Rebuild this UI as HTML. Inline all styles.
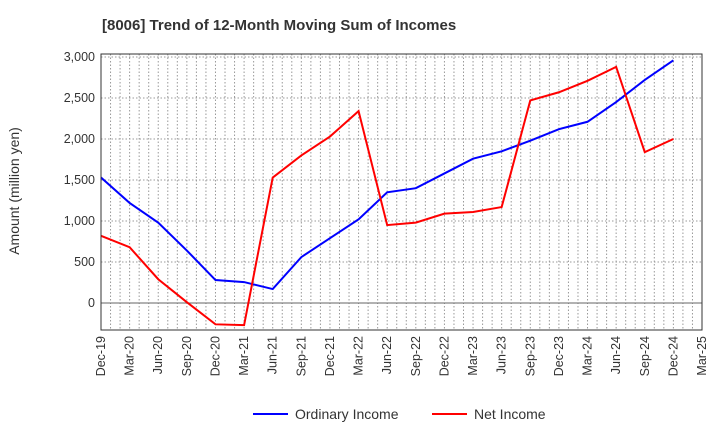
<!DOCTYPE html>
<html><head><meta charset="utf-8"><style>
body{margin:0;background:#fff;font-family:"Liberation Sans",sans-serif}
</style></head><body>
<svg id="c" width="720" height="440" xmlns="http://www.w3.org/2000/svg">
<text x="102" y="30" font-size="15" font-weight="bold" fill="#333">[8006]  Trend of 12-Month Moving Sum of Incomes</text>
<text transform="translate(19,191) rotate(-90)" text-anchor="middle" font-size="14" fill="#333">Amount (million yen)</text>
<g id="grid"></g><g id="series"></g><g id="axes"></g>
<g>
<line x1="253" y1="414" x2="288" y2="414" stroke="#0000ff" stroke-width="2"/>
<text x="295" y="419" font-size="14" fill="#333">Ordinary Income</text>
<line x1="432" y1="414" x2="467" y2="414" stroke="#ff0000" stroke-width="2"/>
<text x="474" y="419" font-size="14" fill="#333">Net Income</text>
</g>
</svg>
<script>
const categories=["Dec-19","Mar-20","Jun-20","Sep-20","Dec-20","Mar-21","Jun-21","Sep-21","Dec-21","Mar-22","Jun-22","Sep-22","Dec-22","Mar-23","Jun-23","Sep-23","Dec-23","Mar-24","Jun-24","Sep-24","Dec-24","Mar-25"];
const ordinaryIncome=[1530,1220,980,640,280,255,170,560,790,1020,1350,1400,1580,1760,1850,1980,2120,2210,2450,2720,2960];
const netIncome=[820,680,290,10,-260,-270,1530,1800,2030,2340,950,980,1090,1110,1170,2470,2570,2710,2880,1840,2000];
const yTicks=[0,500,1000,1500,2000,2500,3000];
const L=101,R=702,T=54,B=330;
const X=i=>L+i*(R-L)/(categories.length-1);
const Y=v=>303-v*(246/3000);
const NS="http://www.w3.org/2000/svg";
function mk(p,t,a){const e=document.createElementNS(NS,t);for(const k in a)e.setAttribute(k,a[k]);p.appendChild(e);return e;}
const g=document.getElementById('grid'),s=document.getElementById('series'),ax=document.getElementById('axes');
for(let m=1;m<(categories.length-1)*3;m++){const x=L+m*(R-L)/((categories.length-1)*3);
const l=mk(g,'line',{x1:x,x2:x,y1:T,y2:B,stroke:'#999','stroke-dasharray':'1.5,2','stroke-width':1});

}
yTicks.forEach(v=>{const y=Y(v);
const l=mk(g,'line',{x1:L,x2:R,y1:y,y2:y,stroke:v===0?'#666':'#999','stroke-dasharray':v===0?'':'1.5,2','stroke-width':1});


const t=mk(ax,'text',{x:L-6,y:y+4,'text-anchor':'end','font-size':12.5,fill:'#333'});t.textContent=v.toLocaleString('en-US');

});
categories.forEach((c,i)=>{const x=X(i);
const t=mk(ax,'text',{transform:`translate(${x+4},${B+6}) rotate(-90)`,'text-anchor':'end','font-size':12.5,fill:'#333'});t.textContent=c;

});
const fr=mk(ax,'rect',{x:L,y:T,width:R-L,height:B-T,fill:'none',stroke:'#333','stroke-width':1});


function line(d,col,name){const p=mk(s,'polyline',{points:d.map((v,i)=>X(i)+','+Y(v)).join(' '),fill:'none',stroke:col,'stroke-width':2});

}
line(ordinaryIncome,'#0000ff','ordinary-income-line');
line(netIncome,'#ff0000','net-income-line');
</script>
</body></html>
